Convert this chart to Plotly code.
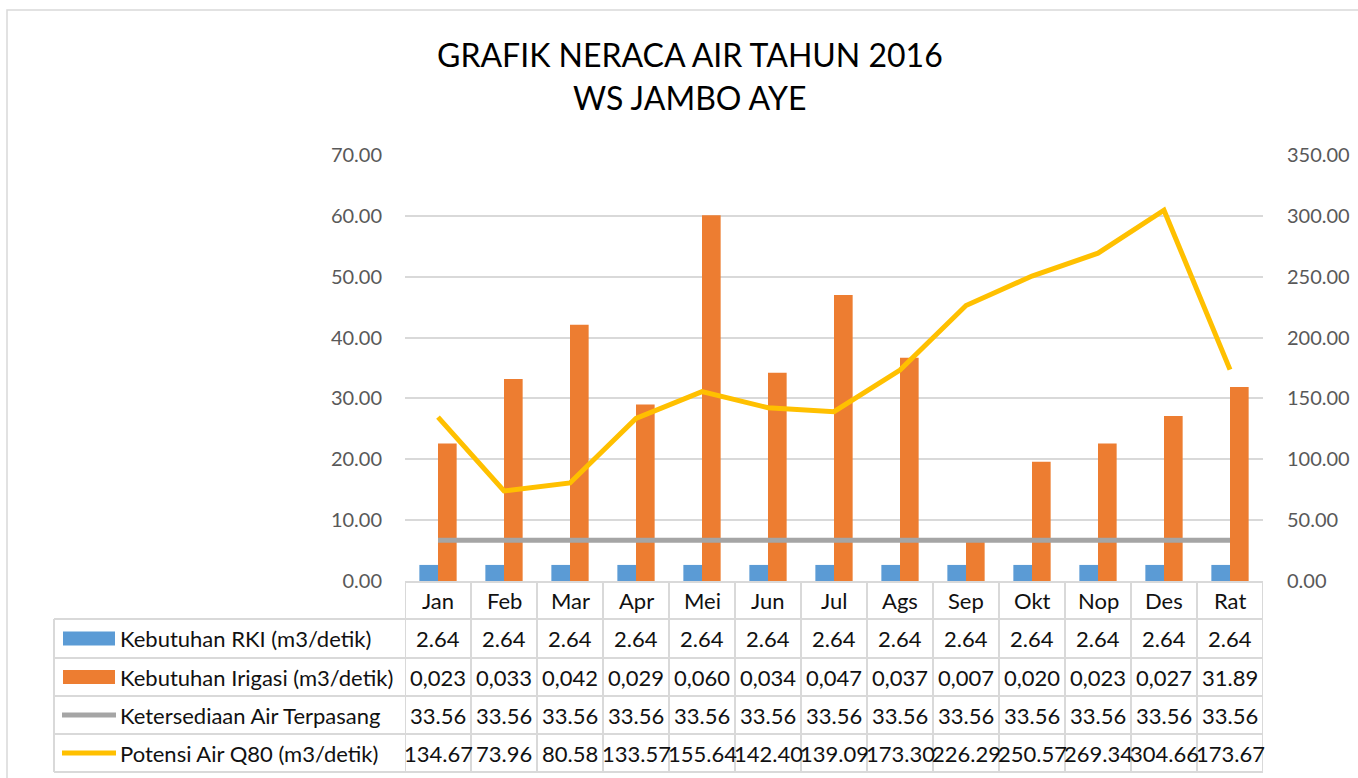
import plotly.graph_objects as go

# ---- data -------------------------------------------------------------
months = ["Jan", "Feb", "Mar", "Apr", "Mei", "Jun", "Jul", "Ags", "Sep", "Okt", "Nop", "Des", "Rat"]
kebutuhan_rki = [2.64, 2.64, 2.64, 2.64, 2.64, 2.64, 2.64, 2.64, 2.64, 2.64, 2.64, 2.64, 2.64]
kebutuhan_irigasi = [22.6, 33.2, 42.1, 29.0, 60.1, 34.2, 47.0, 36.7, 6.6, 19.6, 22.6, 27.1, 31.89]
ketersediaan_terpasang = [33.56, 33.56, 33.56, 33.56, 33.56, 33.56, 33.56, 33.56, 33.56, 33.56, 33.56, 33.56, 33.56]
potensi_q80 = [134.67, 73.96, 80.58, 133.57, 155.64, 142.40, 139.09, 173.30, 226.29, 250.57, 269.34, 304.66, 173.67]

series_names = [
    "Kebutuhan RKI (m3/detik)",
    "Kebutuhan Irigasi (m3/detik)",
    "Ketersediaan Air Terpasang",
    "Potensi Air Q80 (m3/detik)",
]
left_ticks = [0, 10, 20, 30, 40, 50, 60, 70]
right_ticks = [0, 50, 100, 150, 200, 250, 300, 350]

BLUE, ORANGE, GRAY, YELLOW = "#5B9BD5", "#ED7D31", "#A5A5A5", "#FFC000"
FONT = "Lato"
GRID = "#D9D9D9"

W, H = 1358, 778
PL, PR, PT, PB = 405, 1263, 155, 581   # plot area in pixels


def py(p):
    """pixel row -> paper y"""
    return (PB - p) / (PB - PT)


def px(p):
    """pixel column -> paper x"""
    return (p - PL) / (PR - PL)


# irrigation values shown in the table (monthly in thousands, average as is)
irigasi_text = [f"{v / 1000:.3f}".replace(".", ",") for v in kebutuhan_irigasi[:-1]]
irigasi_text.append(f"{kebutuhan_irigasi[-1]:.2f}")

table_rows = [
    [f"{v:.2f}" for v in kebutuhan_rki],
    irigasi_text,
    [f"{v:.2f}" for v in ketersediaan_terpasang],
    [f"{v:.2f}" for v in potensi_q80],
]

fig = go.Figure()
fig.add_trace(go.Bar(x=months, y=kebutuhan_rki, name=series_names[0],
                     marker=dict(color=BLUE, line=dict(width=0))))
fig.add_trace(go.Bar(x=months, y=kebutuhan_irigasi, name=series_names[1],
                     marker=dict(color=ORANGE, line=dict(width=0))))
fig.add_trace(go.Scatter(x=months, y=ketersediaan_terpasang, name=series_names[2],
                         mode="lines", line=dict(color=GRAY, width=5), yaxis="y2"))
fig.add_trace(go.Scatter(x=months, y=potensi_q80, name=series_names[3],
                         mode="lines", line=dict(color=YELLOW, width=5), yaxis="y2"))

shapes = []
annotations = []

# outer chart frame
shapes.append(dict(type="rect", xref="paper", yref="paper",
                   x0=px(7), x1=px(1400), y0=py(10), y1=py(800),
                   line=dict(color=GRID, width=1.5), layer="below"))

# title
title_font = dict(family=FONT, size=32, color="#000000")
for text, yc in (("GRAFIK NERACA AIR TAHUN 2016", 55), ("WS JAMBO AYE", 98)):
    annotations.append(dict(text=text, xref="paper", yref="paper",
                            x=px(689.5), y=py(yc), xanchor="center", yanchor="middle",
                            showarrow=False, font=title_font))

# ---- data table under the chart ----------------------------------------
row_edges = [582, 619, 658, 696, 734, 772]   # header + four series rows
line_style = dict(color=GRID, width=2)
n = len(months)

# horizontal rules
shapes.append(dict(type="line", xref="x", yref="paper", x0=-0.5, x1=n - 0.5,
                   y0=py(row_edges[0]), y1=py(row_edges[0]), line=line_style))
for r in row_edges[1:]:
    shapes.append(dict(type="line", xref="paper", yref="paper", x0=px(54), x1=1,
                       y0=py(r), y1=py(r), line=line_style))
# vertical rules between categories
for i in range(n + 1):
    shapes.append(dict(type="line", xref="x", yref="paper", x0=i - 0.5, x1=i - 0.5,
                       y0=py(row_edges[0]), y1=py(row_edges[-1]), line=line_style))
# left edge of the legend column
shapes.append(dict(type="line", xref="paper", yref="paper", x0=px(54), x1=px(54),
                   y0=py(row_edges[1]), y1=py(row_edges[-1]), line=line_style))

cell_font = dict(family=FONT, size=22, color="#111111")

# month header
hc = (row_edges[0] + row_edges[1]) / 2
for i, m in enumerate(months):
    annotations.append(dict(text=m, xref="x", yref="paper", x=i, y=py(hc),
                            xanchor="center", yanchor="middle",
                            showarrow=False, font=cell_font))

# series rows
for k, (name, vals) in enumerate(zip(series_names, table_rows)):
    rc = (row_edges[k + 1] + row_edges[k + 2]) / 2
    annotations.append(dict(text=name, xref="paper", yref="paper", x=px(118), y=py(rc),
                            xanchor="left", yanchor="middle",
                            showarrow=False, font=cell_font))
    for i, t in enumerate(vals):
        annotations.append(dict(text=t, xref="x", yref="paper", x=i, y=py(rc),
                                xanchor="center", yanchor="middle",
                                showarrow=False, font=cell_font))
    # legend keys
    if k < 2:
        shapes.append(dict(type="rect", xref="paper", yref="paper",
                           x0=px(63), x1=px(115), y0=py(rc - 7), y1=py(rc + 7),
                           fillcolor=[BLUE, ORANGE][k], line=dict(width=0)))
    else:
        shapes.append(dict(type="line", xref="paper", yref="paper",
                           x0=px(62), x1=px(116), y0=py(rc), y1=py(rc),
                           line=dict(color=[GRAY, YELLOW][k - 2], width=5)))

tick_font = dict(family=FONT, size=20, color="#595959")

fig.update_layout(
    width=W, height=H,
    margin=dict(l=PL, r=W - PR, t=PT, b=H - PB, pad=0, autoexpand=False),
    paper_bgcolor="white", plot_bgcolor="white",
    showlegend=False,
    barmode="group", bargap=0.435, bargroupgap=0,
    xaxis=dict(type="category", range=[-0.5, n - 0.5], showticklabels=False,
               showgrid=False, zeroline=False, showline=False, ticks="",
               automargin=False),
    yaxis=dict(range=[0, 70], tickvals=left_ticks,
               ticktext=[f"{v:.2f}" for v in left_ticks],
               showgrid=True, gridcolor=GRID, gridwidth=1.5, zeroline=False,
               showline=False, ticks="", tickfont=tick_font, ticklabelstandoff=22,
               automargin=False),
    yaxis2=dict(range=[0, 350], tickvals=right_ticks,
                ticktext=[f"{v:.2f}" for v in right_ticks],
                overlaying="y", side="right", showgrid=False, zeroline=False,
                showline=False, ticks="", tickfont=tick_font, ticklabelstandoff=23,
                automargin=False),
    shapes=shapes,
    annotations=annotations,
)

fig.write_html("out.html")
